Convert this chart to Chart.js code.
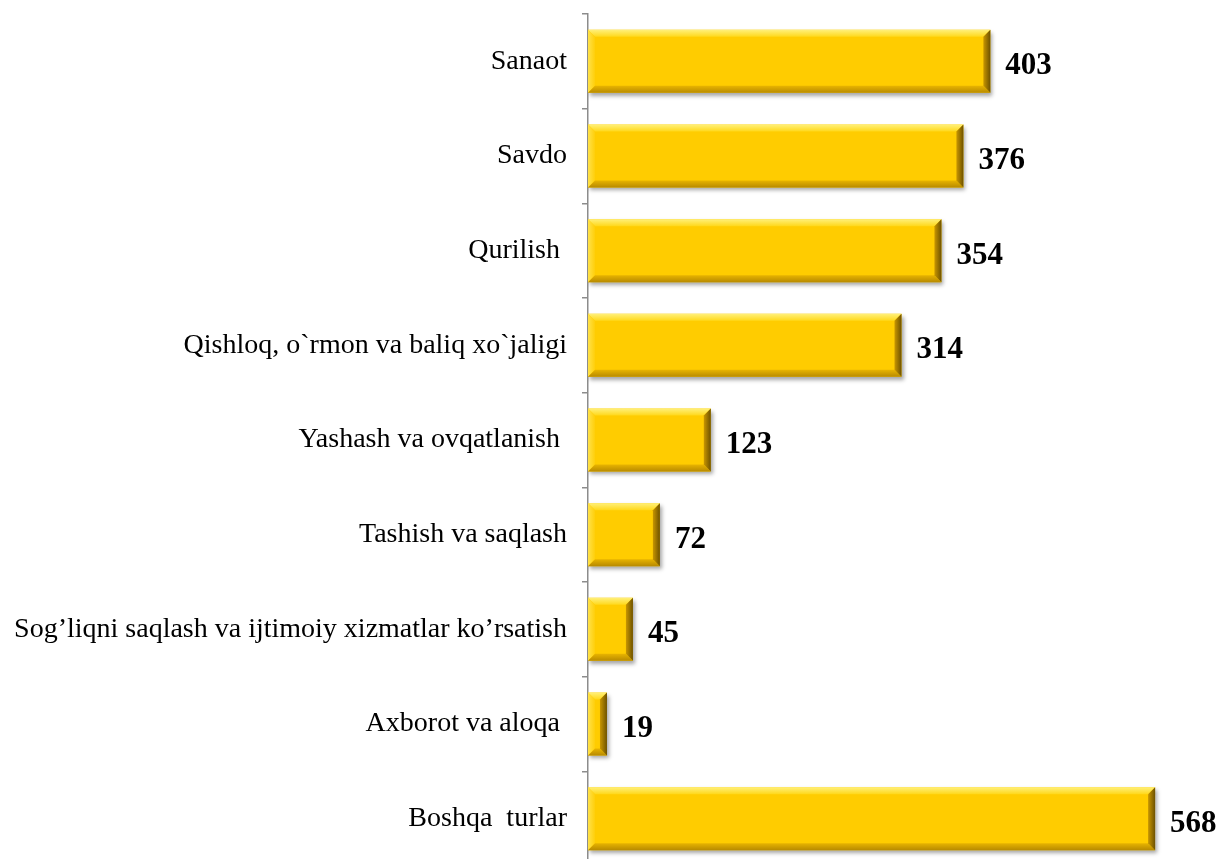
<!DOCTYPE html>
<html>
<head>
<meta charset="utf-8">
<script src="https://cdn.jsdelivr.net/npm/chart.js@4.4.0/dist/chart.umd.min.js"></script>
<style>
html,body{margin:0;padding:0;background:#fff;overflow:hidden;}
#wrap{width:1216px;height:859px;overflow:hidden;position:relative;}
</style>
</head>
<body>
<div id="wrap"><canvas id="c" width="1216" height="880"></canvas></div>
<script>
const categories = [
  "Sanaot",
  "Savdo",
  "Qurilish ",
  "Qishloq, o`rmon va baliq xo`jaligi",
  "Yashash va ovqatlanish ",
  "Tashish va saqlash",
  "Sog’liqni saqlash va ijtimoiy xizmatlar ko’rsatish",
  "Axborot va aloqa ",
  "Boshqa  turlar"
];
const values = [403, 376, 354, 314, 123, 72, 45, 19, 568];

const bevelPlugin = {
  id: 'bevel',
  beforeDatasetsDraw(chart) {
    const ctx = chart.ctx;
    ctx.save();
    ctx.shadowColor = 'rgba(0,0,0,0.35)';
    ctx.shadowBlur = 4;
    ctx.shadowOffsetX = 2;
    ctx.shadowOffsetY = 3;
  },
  afterDatasetsDraw(chart) {
    const ctx = chart.ctx;
    ctx.restore();
    const meta = chart.getDatasetMeta(0);
    meta.data.forEach((bar) => {
      const p = bar.getProps(['x', 'y', 'base', 'height'], true);
      const l = Math.min(p.base, p.x), r = Math.max(p.base, p.x);
      const t = p.y - p.height / 2, b = p.y + p.height / 2;
      const w = r - l;
      const bv = Math.min(7, w / 2, p.height / 2);
      ctx.save();
      let g = ctx.createLinearGradient(0, t, 0, t + bv);
      g.addColorStop(0, '#FFF07A'); g.addColorStop(1, '#FFD81A');
      ctx.fillStyle = g;
      ctx.beginPath(); ctx.moveTo(l, t); ctx.lineTo(r, t); ctx.lineTo(r - bv, t + bv); ctx.lineTo(l + bv, t + bv); ctx.closePath(); ctx.fill();
      g = ctx.createLinearGradient(l, 0, l + bv, 0);
      g.addColorStop(0, '#FFE24A'); g.addColorStop(1, '#FFCF0A');
      ctx.fillStyle = g;
      ctx.beginPath(); ctx.moveTo(l, t); ctx.lineTo(l + bv, t + bv); ctx.lineTo(l + bv, b - bv); ctx.lineTo(l, b); ctx.closePath(); ctx.fill();
      g = ctx.createLinearGradient(0, b - bv, 0, b);
      g.addColorStop(0, '#E8B400'); g.addColorStop(1, '#B88A00');
      ctx.fillStyle = g;
      ctx.beginPath(); ctx.moveTo(l, b); ctx.lineTo(l + bv, b - bv); ctx.lineTo(r - bv, b - bv); ctx.lineTo(r, b); ctx.closePath(); ctx.fill();
      g = ctx.createLinearGradient(r - bv, 0, r, 0);
      g.addColorStop(0, '#C89600'); g.addColorStop(1, '#6E5200');
      ctx.fillStyle = g;
      ctx.beginPath(); ctx.moveTo(r, t); ctx.lineTo(r, b); ctx.lineTo(r - bv, b - bv); ctx.lineTo(r - bv, t + bv); ctx.closePath(); ctx.fill();
      ctx.restore();
    });
  },
  afterDraw(chart) {
    const ctx = chart.ctx;
    const meta = chart.getDatasetMeta(0);
    ctx.save();
    ctx.font = 'bold 31px "Liberation Serif", "Times New Roman", serif';
    ctx.fillStyle = '#000';
    ctx.textAlign = 'left';
    ctx.textBaseline = 'middle';
    meta.data.forEach((bar, i) => {
      ctx.fillText(String(values[i]), bar.x + 15, bar.y + 5);
    });
    ctx.restore();
  }
};

new Chart(document.getElementById('c'), {
  type: 'bar',
  data: {
    labels: categories,
    datasets: [{
      data: values,
      backgroundColor: '#FFCC00',
      borderWidth: 0,
      barPercentage: 0.665,
      categoryPercentage: 1.0
    }]
  },
  options: {
    indexAxis: 'y',
    responsive: false,
    animation: false,
    events: [],
    layout: { padding: { top: 14, bottom: 14, left: 0, right: 0 } },
    plugins: { legend: { display: false }, tooltip: { enabled: false } },
    scales: {
      x: { display: false, min: 0, max: 629 },
      y: {
        afterFit(scale) { scale.width = 588; scale.paddingTop = 0; scale.paddingBottom = 0; },
        border: { display: true, color: '#8c8c8c', width: 1.5 },
        grid: { offset: true, drawOnChartArea: false, drawTicks: true, tickLength: 6, color: '#8c8c8c', lineWidth: 1.5 },
        ticks: {
          padding: 15,
          color: '#000',
          font: { family: '"Liberation Serif", "Times New Roman", serif', size: 28 }
        }
      }
    }
  },
  plugins: [bevelPlugin]
});
</script>
</body>
</html>
